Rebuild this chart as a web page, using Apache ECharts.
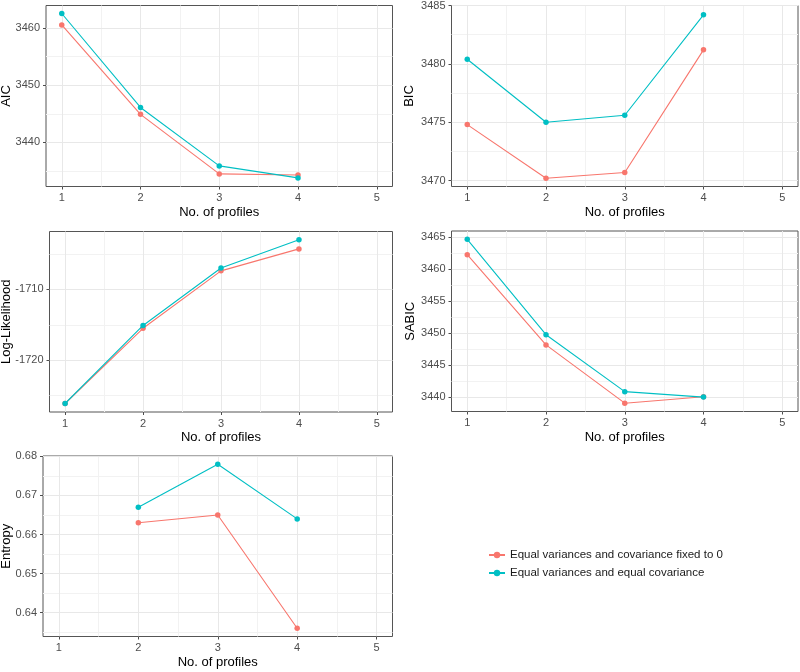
<!DOCTYPE html>
<html><head><meta charset="utf-8">
<script src="https://cdn.jsdelivr.net/npm/echarts@6/dist/echarts.min.js"></script>
<style>html,body{margin:0;padding:0;background:#fff}#c{width:800px;height:672px}</style>
</head><body><div id="c"></div>
<script>
// ---- data ----
const profiles = [1, 2, 3, 4];
const xTicks = [1, 2, 3, 4, 5];
const seriesNames = ['Equal variances and covariance fixed to 0', 'Equal variances and equal covariance'];
const seriesColors = ['#F8766D', '#00BFC4'];

const aicFixed = [3460.5, 3444.9, 3434.5, 3434.3];
const aicEqual = [3462.5, 3446.1, 3435.9, 3433.8];
const aicTicks = [3440, 3450, 3460];

const bicFixed = [3474.8, 3470.2, 3470.7, 3481.2];
const bicEqual = [3480.4, 3475.0, 3475.6, 3484.2];
const bicTicks = [3470, 3475, 3480, 3485];

const llFixed = [-1726.1, -1715.5, -1707.4, -1704.3];
const llEqual = [-1726.1, -1715.1, -1707.0, -1703.0];
const llTicks = [-1720, -1710];

const sabicFixed = [3462.2, 3448.1, 3439.0, 3440.0];
const sabicEqual = [3464.6, 3449.7, 3440.8, 3439.95];
const sabicTicks = [3440, 3445, 3450, 3455, 3460, 3465];

const entropyFixed = [null, 0.663, 0.665, 0.636];
const entropyEqual = [null, 0.667, 0.678, 0.664];
const entropyTicks = [0.64, 0.65, 0.66, 0.67, 0.68];

const xTitle = 'No. of profiles';

// ---- layout / axis settings ----
const FONT = '"Liberation Sans", Arial, Helvetica, sans-serif';
const xRange = [0.8, 5.2];
const panels = [
  {title: 'AIC', fixed: aicFixed, equal: aicEqual, ticks: aicTicks, range: [3432.3, 3463.9], box: [46, 5.5, 346.5, 181], gap: 33},
  {title: 'BIC', fixed: bicFixed, equal: bicEqual, ticks: bicTicks, range: [3469.5, 3485.0], box: [451.5, 5.5, 346.5, 181], gap: 35.5},
  {title: 'Log-Likelihood', fixed: llFixed, equal: llEqual, ticks: llTicks, range: [-1727.3, -1701.85], box: [49.5, 231.5, 343, 180.5], gap: 36.5},
  {title: 'SABIC', fixed: sabicFixed, equal: sabicEqual, ticks: sabicTicks, range: [3437.7, 3465.9], box: [451.5, 231, 346.5, 180.5], gap: 35},
  {title: 'Entropy', fixed: entropyFixed, equal: entropyEqual, ticks: entropyTicks, range: [0.6339, 0.6801], box: [43, 456, 349.5, 180.5], gap: 30.5}
];

function minors(ticks, range) {
  const step = ticks.length > 1 ? ticks[1] - ticks[0] : 1;
  const out = [];
  for (let i = -1; i < ticks.length; i++) {
    const v = +(ticks[0] + (i + 0.5) * step).toFixed(6);
    if (v > range[0] && v < range[1]) out.push(v);
  }
  return out;
}
const plain = v => String(+v.toFixed(6));

const tickColor = '#4d4d4d';
const labelStyle = {fontFamily: FONT, fontSize: 11, color: '#4d4d4d'};
const titleStyle = {fontFamily: FONT, fontSize: 13, color: '#000'};
const majorLine = {color: '#e8e8e8', width: 1};
const minorLine = {color: '#f2f2f2', width: 1};

const option = {
  animation: false,
  backgroundColor: '#fff',
  grid: [], xAxis: [], yAxis: [], series: [],
  legend: {
    orient: 'vertical', left: 483, top: 544,
    itemWidth: 16, itemHeight: 8, itemGap: 6,
    selectedMode: false,
    data: seriesNames,
    textStyle: {fontFamily: FONT, fontSize: 11.5, color: '#1a1a1a'}
  }
};

panels.forEach((p, i) => {
  option.grid.push({
    left: p.box[0], top: p.box[1], width: p.box[2], height: p.box[3],
    show: true, borderColor: '#555', borderWidth: 1, backgroundColor: '#fff',
    containLabel: false, outerBoundsMode: 'none'
  });
  const xMinor = minors(xTicks, xRange);
  const yMinor = minors(p.ticks, p.range);
  // minor grid axes
  option.xAxis.push({
    type: 'value', gridIndex: i, min: xRange[0], max: xRange[1], position: 'top',
    axisLine: {show: false}, axisTick: {show: false, customValues: xMinor},
    axisLabel: {show: false}, splitLine: {show: true, lineStyle: minorLine}, z: 1
  });
  option.yAxis.push({
    type: 'value', gridIndex: i, min: p.range[0], max: p.range[1], position: 'right',
    axisLine: {show: false}, axisTick: {show: false, customValues: yMinor},
    axisLabel: {show: false}, splitLine: {show: true, lineStyle: minorLine}, z: 1
  });
  // main axes
  option.xAxis.push({
    type: 'value', gridIndex: i, min: xRange[0], max: xRange[1], position: 'bottom',
    name: xTitle, nameLocation: 'middle', nameGap: 19, nameMoveOverlap: false, nameTextStyle: titleStyle,
    axisLine: {show: false},
    axisTick: {show: true, length: 3, customValues: xTicks, lineStyle: {color: tickColor}},
    axisLabel: {customValues: xTicks, margin: 6, formatter: plain, ...labelStyle},
    splitLine: {show: true, lineStyle: majorLine}, z: 2
  });
  option.yAxis.push({
    type: 'value', gridIndex: i, min: p.range[0], max: p.range[1], position: 'left',
    name: p.title, nameLocation: 'middle', nameGap: p.gap, nameMoveOverlap: false, nameTextStyle: titleStyle,
    axisLine: {show: false},
    axisTick: {show: true, length: 3, customValues: p.ticks, lineStyle: {color: tickColor}},
    axisLabel: {customValues: p.ticks, margin: 6, formatter: plain, ...labelStyle},
    splitLine: {show: true, lineStyle: majorLine}, z: 2
  });
  [p.fixed, p.equal].forEach((vals, k) => {
    const data = [];
    profiles.forEach((x, j) => { if (vals[j] !== null) data.push([x, vals[j]]); });
    option.series.push({
      type: 'line', name: seriesNames[k],
      xAxisIndex: 2 * i + 1, yAxisIndex: 2 * i + 1,
      data: data, symbol: 'circle', symbolSize: 5.5, showSymbol: true,
      itemStyle: {color: seriesColors[k]},
      lineStyle: {color: seriesColors[k], width: 1.1},
      emphasis: {disabled: true}, z: 3 + k
    });
  });
});

const chart = echarts.init(document.getElementById('c'), null, {renderer: 'canvas'});
chart.setOption(option);
</script>
</body></html>
